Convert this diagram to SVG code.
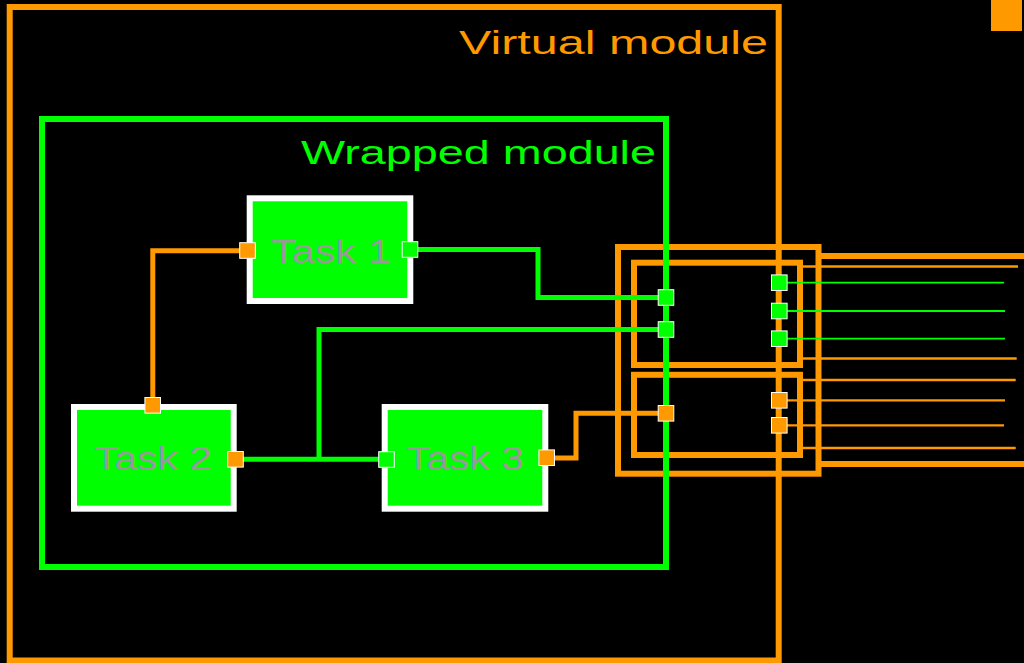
<svg xmlns="http://www.w3.org/2000/svg" width="1024" height="663" viewBox="0 0 1024 663">
<style>
.org{fill:none;stroke:#ff9900;stroke-width:6}
.grn{fill:none;stroke:#00ff00;stroke-width:6}
.task{fill:#00ff00;stroke:#ffffff;stroke-width:6}
.tlabel{font-family:"Liberation Sans",Arial,sans-serif;font-size:32.7px;fill:#999999}
.plo{fill:#ff9900;stroke:#ffffff;stroke-width:1}
.plg{fill:#00ff00;stroke:#ffffff;stroke-width:1}
.co{fill:none;stroke:#ff9900;stroke-width:5}
.cg{fill:none;stroke:#00ff00;stroke-width:5}
.to{stroke:#ff9900;stroke-width:2.3}
.tg{stroke:#00ff00;stroke-width:1.8}
.title{font-family:"Liberation Sans",Arial,sans-serif}
</style>
<rect x="0" y="0" width="1024" height="663" fill="#000000"/>
<g id="virtual-module">
<rect class="org" x="9.7" y="7" width="769" height="653.5"/>
<text class="title" x="459" y="53.5" font-size="34" fill="#ff9900" textLength="309" lengthAdjust="spacingAndGlyphs">Virtual module</text>
</g>
<rect id="corner-marker" x="991" y="0" width="31" height="31" fill="#ff9900"/>
<g id="interface">
<rect class="org" x="618" y="247" width="200.5" height="226.7"/>
<rect class="org" x="634" y="262.7" width="166" height="102.3"/>
<rect class="org" x="634" y="374.8" width="166" height="80.2"/>
<line class="org" x1="818" y1="256" x2="1024" y2="256"/>
<line class="org" x1="818" y1="464" x2="1024" y2="464"/>
<line class="to" x1="802" y1="266.5" x2="1018" y2="266.5"/>
<line class="to" x1="802" y1="358.5" x2="1016.7" y2="358.5"/>
<line class="to" x1="802" y1="380" x2="1015.7" y2="380"/>
<line class="to" x1="802" y1="448" x2="1015.7" y2="448"/>
<line class="to" x1="779" y1="400.3" x2="1005" y2="400.3"/>
<line class="to" x1="779" y1="425.3" x2="1004" y2="425.3"/>
<line class="tg" x1="779" y1="282.7" x2="1004" y2="282.7"/>
<line class="tg" x1="779" y1="311" x2="1005" y2="311"/>
<line class="tg" x1="779" y1="338.7" x2="1005" y2="338.7"/>
</g>
<g id="wrapped-module">
<rect class="grn" x="42" y="119" width="624" height="448"/>
<text class="title" x="301" y="164.3" font-size="33" fill="#00ff00" textLength="355" lengthAdjust="spacingAndGlyphs">Wrapped module</text>
</g>
<g id="task1">
<rect class="task" x="249.7" y="198.3" width="160.6" height="102.7"/>
<text class="tlabel" x="271" y="262.7" textLength="120" lengthAdjust="spacingAndGlyphs">Task 1</text>
</g>
<g id="task2">
<rect class="task" x="74" y="407" width="159.7" height="101.7"/>
<text class="tlabel" x="94" y="470" textLength="118" lengthAdjust="spacingAndGlyphs">Task 2</text>
</g>
<g id="task3">
<rect class="task" x="384.7" y="407" width="160.6" height="101.7"/>
<text class="tlabel" x="406" y="470" textLength="118" lengthAdjust="spacingAndGlyphs">Task 3</text>
</g>
<g id="connectors">
<path class="co" d="M247.5 250.7 H152.8 V405"/>
<path class="cg" d="M410 249.5 H538 V297.5 H666"/>
<path class="cg" d="M235.5 459.3 H386.5"/>
<path class="cg" d="M319 459.3 V329.5 H666"/>
<path class="co" d="M546.7 458 H576 V413.3 H666"/>
</g>
<g id="ports">
<rect class="plo" x="239.7" y="242.7" width="15.6" height="15.6"/>
<rect class="plg" x="402.2" y="241.7" width="15.6" height="15.6"/>
<rect class="plo" x="144.9" y="397.5" width="15.6" height="15.6"/>
<rect class="plo" x="227.7" y="451.5" width="15.6" height="15.6"/>
<rect class="plg" x="378.7" y="451.7" width="15.6" height="15.6"/>
<rect class="plo" x="538.9" y="449.9" width="15.6" height="15.6"/>
<rect class="plg" x="658.2" y="289.7" width="15.6" height="15.6"/>
<rect class="plg" x="658.2" y="321.7" width="15.6" height="15.6"/>
<rect class="plo" x="658.2" y="405.5" width="15.6" height="15.6"/>
<rect class="plg" x="771.5" y="274.9" width="15.6" height="15.6"/>
<rect class="plg" x="771.5" y="303.2" width="15.6" height="15.6"/>
<rect class="plg" x="771.5" y="330.9" width="15.6" height="15.6"/>
<rect class="plo" x="771.5" y="392.5" width="15.6" height="15.6"/>
<rect class="plo" x="771.5" y="417.5" width="15.6" height="15.6"/>
</g>
</svg>
